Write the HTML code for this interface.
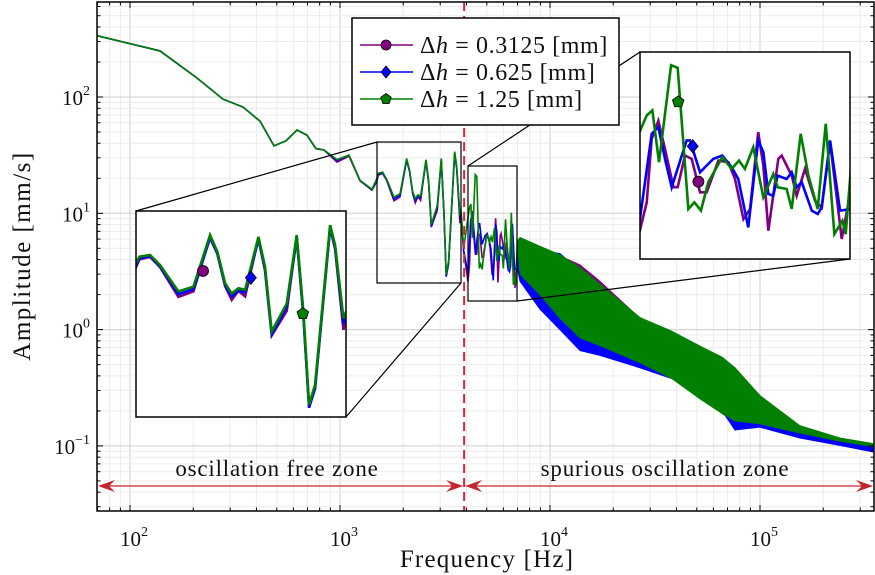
<!DOCTYPE html>
<html><head><meta charset="utf-8">
<style>
html,body{margin:0;padding:0;background:#fff;}
svg{display:block;}
text{font-family:"Liberation Serif",serif;fill:#111;}
</style></head>
<body>
<svg id="chart" width="875" height="575" viewBox="0 0 875 575" xmlns="http://www.w3.org/2000/svg">
  <defs>
    <clipPath id="plotClip"><rect x="97" y="2" width="777" height="509"/></clipPath>
    <clipPath id="in1Clip"><rect x="136" y="211" width="210" height="206"/></clipPath>
    <clipPath id="in2Clip"><rect x="640" y="52" width="210" height="207"/></clipPath>
  </defs>
  <g id="grid"></g>
  <g id="series" clip-path="url(#plotClip)"></g>
  <g id="zones"></g>
  <g id="axes"></g>
  <g id="insets"></g>
  <g id="legend"></g>
</svg>
<script>
// ---------- DATA ----------
const seriesNames = ["0.3125","0.625","1.25"];
const seriesColors = ["#800080","#0000ff","#008000"];
const lowFreq = [70,139,208,277,345,416,485,553,624,696,768,839,968,1104,1245,1420,1494,1523,1596,1667,1807,1930,2076,2144,2218,2283,2351,2421,2567,2642,2721,2906,3036,3126,3205,3290,3515,3593,3727,3771,3880];
const lowGreen = [336,249,146,96,82,62,38,42,52,47,36,35,29,31.6,19.2,16.1,19.7,22.1,22.6,19.7,13.8,14.7,29.6,23.6,15.4,13.4,14.4,14.1,28.9,19.3,8.01,11.7,29.6,10.5,2.97,3.89,33.9,25.8,9.59,10.5,5.0];
const lowBlue  = [336,249,146,96,82,62,38,42,52,47,36,35,28.5,31.6,19.2,16.0,19.0,21.6,22.3,19.4,13.3,14.2,28.5,23.0,15.0,12.9,14.0,13.6,28.0,18.5,7.7,11.2,28.5,10.0,2.85,3.7,32.5,25.0,8.9,10.0,4.8];
const lowPurple= [336,249,146,96,82,62,38,42,52,47,36,35,27.5,31.0,19.0,15.8,18.6,21.3,22.0,19.2,12.8,13.8,28.8,23.0,14.8,12.3,13.9,12.9,28.5,18.5,7.6,10.6,29.0,10.0,2.9,3.7,33.0,24.5,8.2,9.8,4.7];
const gFreq = [4071,4140,4200,4272,4406,4481,4605,4677,4756,4846,5023,5145,5242,5322,5437,5579,5723,5787,5922,5999,6139,6261,6412,6545,6691,6830,6888,6982];
const gAmp  = [9.26,11.25,12.0,6.15,21.5,20.8,3.36,3.66,3.29,4.75,6.56,5.64,6.28,5.64,7.46,3.91,5.28,4.45,4.35,3.36,8.87,5.17,3.36,10.1,2.43,2.89,2.43,5.76];
const bFreq = [4071,4193,4265,4338,4413,4585,4624,4745,4909,5023,5145,5233,5368,5507,5579,5651,5723,5787,5922,5999,6076,6155,6315,6412,6478,6618,6789,6982];
const bAmp  = [3.02,8.87,9.67,6.42,4.45,8.14,8.14,5.40,6.42,6.70,5.76,4.95,2.65,8.14,7.00,4.08,3.99,5.17,4.95,5.40,4.45,4.75,3.29,3.15,3.43,8.14,3.29,3.36];
const pFreq = [4071,4140,4193,4265,4338,4433,4481,4566,4645,4745,4826,4973,5101,5189,5302,5393,5507,5579,5651,5797,5847,5999,6076,6207,6368,6478,6618,6818,6982];
const pAmp  = [2.59,3.66,8.31,10.5,7.30,4.45,4.45,6.70,6.42,4.17,4.17,6.28,6.15,4.95,2.95,3.36,9.06,5.89,2.54,6.42,6.70,5.17,3.99,5.64,3.74,3.43,7.96,2.28,4.35];
const envFreq = [6982,7200,8960,11160,13900,17300,26800,38000,51800,66000,76000,100000,155000,240000,353000];
const pUpper = [4.35,6.0,5.0,4.3,3.6,2.6,1.25,0.95,0.72,0.55,0.45,0.27,0.147,0.115,0.102];
const pLower = [4.35,2.8,1.8,1.1,0.75,0.65,0.50,0.38,0.27,0.19,0.16,0.15,0.125,0.108,0.095];
const bUpper = [3.36,5.8,4.8,4.5,3.2,2.2,1.2,0.92,0.68,0.53,0.44,0.26,0.14,0.112,0.100];
const bLower = [3.36,2.6,1.5,1.0,0.66,0.60,0.47,0.38,0.30,0.20,0.137,0.145,0.117,0.101,0.088];
const gUpper = [5.76,6.2,5.2,4.4,3.4,2.45,1.27,0.97,0.72,0.58,0.47,0.27,0.149,0.117,0.104];
const gLower = [5.76,3.0,2.0,1.25,0.85,0.73,0.52,0.38,0.254,0.19,0.164,0.155,0.129,0.110,0.098];
const mark1Freq = [2013,2483,3119];
const mark1Amp  = [18.2,16.6,10.2];
const mark2Freq = [4725,4657,4487];
const mark2Amp  = [4.78,7.56,13.4];
const xTickExp = [2,3,4,5];
const yTickExp = [2,1,0,-1];
const thresholdFreq = 3900;

// ---------- AXES ----------
const NS="http://www.w3.org/2000/svg";
const L=97,R=874,T=2,B=511;
const xScale = f => 130 + (Math.log10(f)-2)*210;
const yScale = a => 97 + (2-Math.log10(a))*116.3;
function mk(tag,attrs,parent){const e=document.createElementNS(NS,tag);for(const k in attrs)e.setAttribute(k,attrs[k]);parent.appendChild(e);return e;}

const grid=document.getElementById('grid');
for(let d=1;d<=5;d++){for(let m=1;m<10;m++){const x=xScale(m*Math.pow(10,d));if(x<L||x>R)continue;
  const ln=mk('line',{x1:x,x2:x,y1:T,y2:B,stroke:m==1?'#cfcfcf':'#ececec','stroke-width':1},grid);
  
  }}
for(let d=-2;d<=2;d++){for(let m=1;m<10;m++){const y=yScale(m*Math.pow(10,d));if(y<T||y>B)continue;
  const ln=mk('line',{x1:L,x2:R,y1:y,y2:y,stroke:m==1?'#cfcfcf':'#ececec','stroke-width':1},grid);
  
  }}

function linePath(fr,am,xs,ys){return fr.map((f,i)=>(i?'L':'M')+xs(f).toFixed(2)+','+ys(am[i]).toFixed(2)).join('');}
function bandPath(fr,up,lo,xs,ys){let d=fr.map((f,i)=>(i?'L':'M')+xs(f).toFixed(2)+','+ys(up[i]).toFixed(2)).join('');
  for(let i=fr.length-1;i>=0;i--)d+='L'+xs(fr[i]).toFixed(2)+','+ys(lo[i]).toFixed(2);return d+'Z';}

const lows=[lowPurple,lowBlue,lowGreen];
const nF=[pFreq,bFreq,gFreq], nA=[pAmp,bAmp,gAmp];
const ups=[pUpper,bUpper,gUpper], los=[pLower,bLower,gLower];
const sNames=['series-purple','series-blue','series-green'];

function drawSeries(parent,xs,ys,w,withBand){
  for(let s=0;s<3;s++){
    const g=mk('g',{},parent);
    
    
    if(withBand){const band=mk('path',{d:bandPath(envFreq,ups[s],los[s],xs,ys),fill:seriesColors[s],stroke:seriesColors[s],'stroke-width':1},g);
      
      }
    const fr=lowFreq.concat(nF[s]), am=lows[s].concat(nA[s]);
    const p=mk('path',{d:linePath(fr,am,xs,ys),fill:'none',stroke:seriesColors[s],'stroke-width':w,'stroke-linejoin':'miter'},g);
    
    
  }
}
drawSeries(document.getElementById('series'),xScale,yScale,1.6,true);

const axes=document.getElementById('axes');
const frame=mk('rect',{x:L,y:T,width:R-L,height:B-T,fill:'none',stroke:'#000','stroke-width':1.5},axes);


for(let d=1;d<=5;d++){for(let m=1;m<10;m++){const x=xScale(m*Math.pow(10,d));if(x<L||x>R)continue;const len=m==1?6:3.5;
  const t1=mk('line',{x1:x,x2:x,y1:B,y2:B-len,stroke:'#000','stroke-width':1},axes);
  
  
  const t2=mk('line',{x1:x,x2:x,y1:T,y2:T+len,stroke:'#000','stroke-width':1},axes);
  
  }}
for(let d=-2;d<=2;d++){for(let m=1;m<10;m++){const y=yScale(m*Math.pow(10,d));if(y<T||y>B)continue;const len=m==1?6:3.5;
  const t1=mk('line',{x1:L,x2:L+len,y1:y,y2:y,stroke:'#000','stroke-width':1},axes);
  
  
  const t2=mk('line',{x1:R,x2:R-len,y1:y,y2:y,stroke:'#000','stroke-width':1},axes);
  
  }}
xTickExp.forEach(e=>{const x=xScale(Math.pow(10,e));
  const t=mk('text',{x:x+4,y:546,'font-size':21,'text-anchor':'middle'},axes);
  t.innerHTML='10<tspan dy="-10" font-size="14">'+e+'</tspan>';
  
  });
yTickExp.forEach(e=>{const y=yScale(Math.pow(10,e));
  const t=mk('text',{x:90,y:y+8,'font-size':21,'text-anchor':'end'},axes);
  t.innerHTML='10<tspan dy="-10" font-size="14">'+(e<0?'\u22121':e)+'</tspan>';
  
  });
const xt=mk('text',{x:487,y:567,'font-size':25,'text-anchor':'middle','letter-spacing':'1.2'},axes);xt.textContent='Frequency [Hz]';


const yt=mk('text',{x:0,y:0,'font-size':25,'text-anchor':'middle','letter-spacing':'1.5',transform:'translate(30,256) rotate(-90)'},axes);yt.textContent='Amplitude [mm/s]';



const zones=document.getElementById('zones');
const tx=xScale(thresholdFreq);
const dl=mk('line',{x1:tx,x2:tx,y1:T,y2:B,stroke:'#d22a34','stroke-width':2,'stroke-dasharray':'9,5'},zones);


function arrow(x1,x2,name){const g=mk('g',{},zones);
  
  
  const y=486,c='#c4262e';
  mk('line',{x1:x1+4,x2:x2-4,y1:y,y2:y,stroke:c,'stroke-width':1.2},g);
  mk('path',{d:`M${x1},${y} L${x1+17},${y-6} L${x1+11},${y} L${x1+17},${y+6}Z`,fill:c},g);
  mk('path',{d:`M${x2},${y} L${x2-17},${y-6} L${x2-11},${y} L${x2-17},${y+6}Z`,fill:c},g);}
arrow(98,tx-1,'oscillation-free-arrow');
arrow(tx+1,873,'spurious-zone-arrow');
const z1=mk('text',{x:277,y:476,'font-size':23,'text-anchor':'middle','letter-spacing':'0.8'},zones);z1.textContent='oscillation free zone';


const z2=mk('text',{x:665,y:476,'font-size':23,'text-anchor':'middle','letter-spacing':'0.8'},zones);z2.textContent='spurious oscillation zone';



function marker(parent,s,x,y,r){let e;
  if(s==0)e=mk('circle',{cx:x,cy:y,r:r},parent);
  else if(s==1)e=mk('path',{d:`M${x},${y-r*1.2}L${x+r},${y}L${x},${y+r*1.2}L${x-r},${y}Z`},parent);
  else{let pts=[];for(let k=0;k<5;k++){const a=-Math.PI/2+k*2*Math.PI/5;pts.push((x+r*1.1*Math.cos(a)).toFixed(2)+','+(y+r*1.1*Math.sin(a)).toFixed(2));}e=mk('polygon',{points:pts.join(' ')},parent);}
  e.setAttribute('fill',seriesColors[s]);e.setAttribute('stroke','#000');e.setAttribute('stroke-width',0.8);return e;}

const insets=document.getElementById('insets');
function inset(src,dst,clip,mf,ma,name){
  const g=mk('g',{},insets);
  
  
  const sx=(dst[2]-dst[0])/(src[2]-src[0]), sy=(dst[3]-dst[1])/(src[3]-src[1]);
  const xs=f=>dst[0]+(xScale(f)-src[0])*sx, ys=a=>dst[1]+(yScale(a)-src[1])*sy;
  const srcBox=mk('rect',{x:src[0],y:src[1],width:src[2]-src[0],height:src[3]-src[1],fill:'none',stroke:'#000','stroke-width':1.2},g);
  
  
  const bg=mk('rect',{x:dst[0],y:dst[1],width:dst[2]-dst[0],height:dst[3]-dst[1],fill:'#fff'},g);
  
  
  const c=mk('g',{'clip-path':`url(#${clip})`},g);
  drawSeries(c,xs,ys,2.6,false);
  for(let s=0;s<3;s++){const m=marker(c,s,xs(mf[s]),ys(ma[s]),5.5);
    
    }
  const box=mk('rect',{x:dst[0],y:dst[1],width:dst[2]-dst[0],height:dst[3]-dst[1],fill:'none',stroke:'#000','stroke-width':1.5},g);
  
  
  return g;}
const g1=inset([377,142,461,283],[136,211,346,417],'in1Clip',mark1Freq,mark1Amp,'inset-low-frequency');
mk('line',{x1:136,y1:211,x2:377,y2:142,stroke:'#000','stroke-width':1.2},g1);
mk('line',{x1:346,y1:417,x2:461,y2:283,stroke:'#000','stroke-width':1.2},g1);
const g2=inset([468,166,517,301],[640,52,850,259],'in2Clip',mark2Freq,mark2Amp,'inset-spurious');
mk('line',{x1:468,y1:166,x2:640,y2:52,stroke:'#000','stroke-width':1.2},g2);
mk('line',{x1:517,y1:301,x2:850,y2:259,stroke:'#000','stroke-width':1.2},g2);

const lg=document.getElementById('legend');
const lb=mk('rect',{x:352,y:18,width:267,height:107,fill:'#fff',stroke:'#000','stroke-width':1.5},lg);


for(let s=0;s<3;s++){const y=45+s*27;
  const e=mk('g',{},lg);
  
  
  mk('line',{x1:360,x2:413,y1:y,y2:y,stroke:seriesColors[s],'stroke-width':1.6},e);
  marker(e,s,386,y,5);
  const t=mk('text',{x:420,y:y+8,'font-size':24,'letter-spacing':'0.6'},e);
  t.innerHTML='\u0394<tspan font-style="italic">h</tspan> = '+seriesNames[s]+' [mm]';}
</script>
</body></html>
